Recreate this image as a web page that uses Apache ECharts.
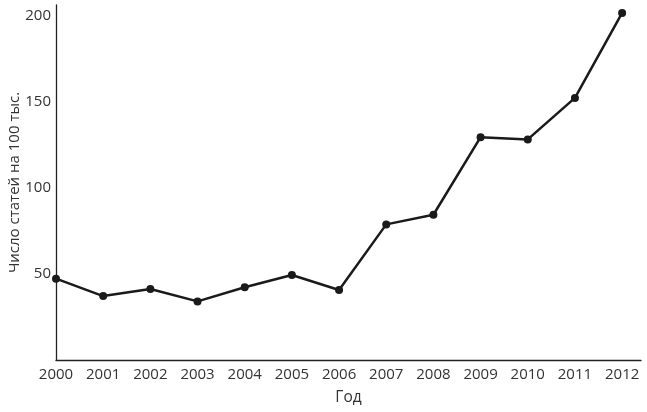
<!DOCTYPE html>
<html><head><meta charset="utf-8">
<script src="https://cdn.jsdelivr.net/npm/echarts@6/dist/echarts.min.js"></script>
<style>html,body{margin:0;padding:0;background:#fff}#c{width:647px;height:412px}</style>
</head><body><div id="c"></div>
<script>
var years = [2000,2001,2002,2003,2004,2005,2006,2007,2008,2009,2010,2011,2012];
var values = [47.2,37.1,41.2,34.0,42.2,49.3,40.6,78.7,84.3,129.3,128.0,152.1,201.4];
var yTicks = [50,100,150,200];
var xName = 'Год';
var yName = 'Число статей на 100 тыс.';
var font = '"Open Sans", Lato, sans-serif';
var chart = echarts.init(document.getElementById('c'));
chart.setOption({
  animation:false,
  grid:{left:56,right:6,top:5,bottom:52,containLabel:false,outerBoundsMode:'none'},
  xAxis:{type:'value',min:2000,max:2012.4,interval:1,
    name:xName,nameLocation:'middle',nameGap:30,nameMoveOverlap:false,
    nameTextStyle:{fontSize:15.5,color:'#333',fontFamily:font},
    axisLine:{show:true,lineStyle:{color:'#222',width:1.3}},
    axisTick:{show:false},splitLine:{show:false},
    axisLabel:{margin:7,fontSize:15,color:'#333',fontFamily:font,
      formatter:function(v){return years.indexOf(v)>=0?String(v):'';}}},
  yAxis:{type:'value',min:0,max:206,interval:50,
    name:yName,nameLocation:'middle',nameGap:34,nameMoveOverlap:false,
    nameTextStyle:{fontSize:15,color:'#333',fontFamily:font},
    axisLine:{show:true,lineStyle:{color:'#222',width:1.3}},
    axisTick:{show:false},splitLine:{show:false},
    axisLabel:{margin:5,fontSize:15,color:'#333',fontFamily:font,
      formatter:function(v){return yTicks.indexOf(v)>=0?String(v):'';}}},
  series:[{type:'line',data:years.map(function(y,i){return [y,values[i]];}),
    symbol:'circle',symbolSize:8,
    lineStyle:{color:'#1a1a1a',width:2.5},itemStyle:{color:'#1a1a1a'}}]
});
</script></body></html>
